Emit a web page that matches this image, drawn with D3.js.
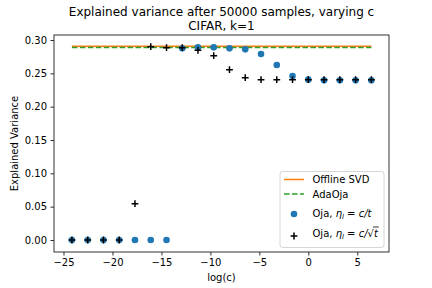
<!DOCTYPE html>
<html>
<head>
<meta charset="utf-8">
<script src="https://cdn.jsdelivr.net/npm/d3@7"></script>
<style>
  body { margin: 0; background: #fff; }
  text { font-family: "DejaVu Sans", sans-serif; }
</style>
</head>
<body>
<svg id="chart" width="432" height="288"></svg>
<script>
// log(c), c = 5^k for k = -15..4
const logC = [-24.14, -22.53, -20.92, -19.31, -17.70, -16.09, -14.48, -12.87, -11.27, -9.66,
              -8.05, -6.44, -4.83, -3.22, -1.61, 0, 1.61, 3.22, 4.83, 6.44];
const offlineSVD = 0.2905;
const adaOja = 0.2888;
const ojaOverT = [0, 0, 0, 0, 0, 0, 0, 0.2875, 0.289, 0.289,
                  0.2875, 0.286, 0.279, 0.2625, 0.246, 0.2405, 0.2395, 0.2395, 0.2395, 0.2395];
const ojaOverSqrtT = [0, 0, 0, 0, 0.0545, 0.290, 0.2885, 0.2885, 0.2845, 0.2765,
                      0.2555, 0.2435, 0.2405, 0.2405, 0.2405, 0.2405, 0.2405, 0.2405, 0.2405, 0.2405];
const xTicks = [-25, -20, -15, -10, -5, 0, 5];
const yTicks = [0, 0.05, 0.10, 0.15, 0.20, 0.25, 0.30];

const svg = d3.select('#chart');
const margin = {top: 35, right: 43, bottom: 36, left: 54};
const width = 432, height = 288;

const x = d3.scaleLinear().domain([-25.97, 8.24]).range([margin.left, width - margin.right]);
const y = d3.scaleLinear().domain([-0.018, 0.3075]).range([height - margin.bottom, margin.top]);

// axes
svg.append('g')
  .attr('transform', `translate(0, ${height - margin.bottom})`)
  .call(d3.axisBottom(x).tickValues(xTicks).tickSize(3.5).tickPadding(3.5).tickFormat(d => d < 0 ? '\u2212' + Math.abs(d) : d))
  .call(g => g.select('.domain').remove())
  .call(g => g.selectAll('line').attr('stroke-width', 0.8))
  .call(g => g.selectAll('text').attr('font-size', 10).attr('fill', '#000').style('font-family', 'DejaVu Sans'));

svg.append('g')
  .attr('transform', `translate(${margin.left}, 0)`)
  .call(d3.axisLeft(y).tickValues(yTicks).tickSize(3.5).tickPadding(3.5).tickFormat(d3.format('.2f')))
  .call(g => g.select('.domain').remove())
  .call(g => g.selectAll('line').attr('stroke-width', 0.8))
  .call(g => g.selectAll('text').attr('font-size', 10).attr('fill', '#000').style('font-family', 'DejaVu Sans'));

// lines
const xMin = d3.min(logC), xMax = d3.max(logC);
svg.append('line')
  .attr('x1', x(xMin)).attr('x2', x(xMax))
  .attr('y1', y(offlineSVD)).attr('y2', y(offlineSVD))
  .attr('stroke', '#ff7f0e').attr('stroke-width', 1.5);
svg.append('line')
  .attr('x1', x(xMin)).attr('x2', x(xMax))
  .attr('y1', y(adaOja)).attr('y2', y(adaOja))
  .attr('stroke', '#2ca02c').attr('stroke-width', 1.5).attr('stroke-dasharray', '5.55,2.4');

// scatter: Oja c/t
svg.append('g').selectAll('circle')
  .data(logC.map((c, i) => [c, ojaOverT[i]]))
  .enter().append('circle')
  .attr('cx', d => x(d[0]))
  .attr('cy', d => y(d[1]))
  .attr('r', 3.3)
  .attr('fill', '#1f77b4');

// scatter: Oja c/sqrt(t)
const plus = 3.4;
svg.append('g').selectAll('path')
  .data(logC.map((c, i) => [c, ojaOverSqrtT[i]]))
  .enter().append('path')
  .attr('d', d => {
    const px = x(d[0]), py = y(d[1]);
    return `M${px - plus},${py}H${px + plus}M${px},${py - plus}V${py + plus}`;
  })
  .attr('stroke', '#000').attr('stroke-width', 1.5).attr('fill', 'none');

// spines
svg.append('rect')
  .attr('x', margin.left).attr('y', margin.top)
  .attr('width', width - margin.left - margin.right)
  .attr('height', height - margin.top - margin.bottom)
  .attr('fill', 'none').attr('stroke', '#000').attr('stroke-width', 0.8);

// titles
const cx = (margin.left + width - margin.right) / 2;
svg.append('text').attr('x', cx).attr('y', 16).attr('text-anchor', 'middle').attr('font-size', 12)
  .text('Explained variance after 50000 samples, varying c');
svg.append('text').attr('x', cx).attr('y', 30).attr('text-anchor', 'middle').attr('font-size', 12)
  .text('CIFAR, k=1');
svg.append('text').attr('x', cx).attr('y', 281).attr('text-anchor', 'middle').attr('font-size', 10)
  .text('log(c)');
svg.append('text').attr('transform', `translate(17.5, ${(margin.top + height - margin.bottom) / 2}) rotate(-90)`)
  .attr('text-anchor', 'middle').attr('font-size', 10)
  .text('Explained Variance');

// legend
const lg = svg.append('g');
lg.append('rect')
  .attr('x', 280).attr('y', 171.5).attr('width', 104).attr('height', 76)
  .attr('rx', 2.5).attr('fill', '#fff').attr('fill-opacity', 0.8)
  .attr('stroke', '#cccccc').attr('stroke-width', 0.8);

const hx0 = 284, hx1 = 304, tx = 312.5;
const rows = [179.5, 194, 213, 233];
lg.append('line').attr('x1', hx0).attr('x2', hx1).attr('y1', rows[0]).attr('y2', rows[0])
  .attr('stroke', '#ff7f0e').attr('stroke-width', 1.5);
lg.append('line').attr('x1', hx0).attr('x2', hx1).attr('y1', rows[1]).attr('y2', rows[1])
  .attr('stroke', '#2ca02c').attr('stroke-width', 1.5).attr('stroke-dasharray', '5.55,2.4');
lg.append('circle').attr('cx', 294).attr('cy', rows[2] + 1).attr('r', 3.3).attr('fill', '#1f77b4');
lg.append('path').attr('d', `M${294 - plus},${rows[3] + 3}H${294 + plus}M294,${rows[3] + 3 - plus}V${rows[3] + 3 + plus}`)
  .attr('stroke', '#000').attr('stroke-width', 1.5);

lg.append('text').attr('x', tx).attr('y', rows[0] + 3.5).attr('font-size', 10).text('Offline SVD');
lg.append('text').attr('x', tx).attr('y', rows[1] + 3.5).attr('font-size', 10).text('AdaOja');

function ojaLabel(yy, sqrt) {
  const t = lg.append('text').attr('x', tx).attr('y', yy).attr('font-size', 10);
  t.append('tspan').text('Oja, ');
  t.append('tspan').attr('font-style', 'italic').text('\u03b7');
  t.append('tspan').attr('font-style', 'italic').attr('font-size', 7).attr('dy', 2).text('l');
  t.append('tspan').attr('dy', -2).text(' = ');
  if (!sqrt) {
    t.append('tspan').attr('font-style', 'italic').text('c/t');
  } else {
    t.append('tspan').attr('font-style', 'italic').text('c/');
    t.append('tspan').text('\u221a');
    t.append('tspan').attr('font-style', 'italic').text('t');
    // overline over the radicand
    const node = t.node();
    const n = node.getNumberOfChars();
    const start = node.getStartPositionOfChar(n - 1);
    const end = node.getEndPositionOfChar(n - 1);
    lg.append('line')
      .attr('x1', start.x - 1).attr('x2', end.x + 1)
      .attr('y1', yy - 9.5).attr('y2', yy - 9.5)
      .attr('stroke', '#000').attr('stroke-width', 0.8);
  }
}
ojaLabel(rows[2] + 3.5, false);
ojaLabel(rows[3] + 3.5, true);
</script>
</body>
</html>
